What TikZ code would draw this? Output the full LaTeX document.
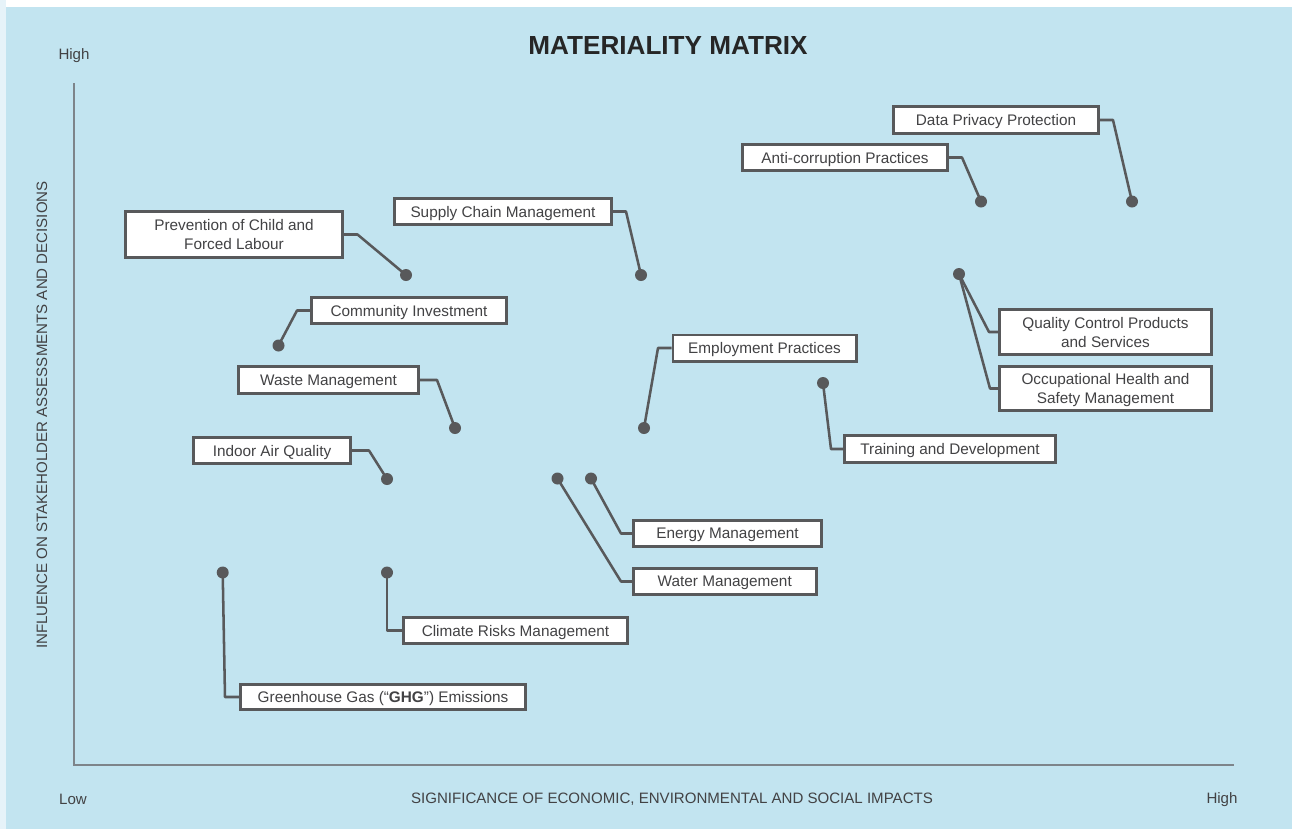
\documentclass[tikz,border=0pt]{standalone}
\usepackage{fontspec}
\setmainfont{Liberation Sans}
\definecolor{panel}{RGB}{194,228,240}
\definecolor{margin}{RGB}{230,243,249}
\definecolor{boxline}{RGB}{88,89,91}
\definecolor{txt}{RGB}{66,66,68}
\definecolor{axis}{RGB}{125,132,138}
\tikzset{
  lbl/.style={draw=boxline, line width=2.2pt, fill=white, text=txt, inner sep=0pt, align=center,
    text depth=0pt, font=\fontsize{11.5}{14.3}\selectfont},
  sz/.style 2 args={minimum width=#1*0.75pt-2.2pt, minimum height=#2*0.75pt-2.2pt},
  dotnode/.style={circle, fill=boxline, minimum size=9pt, inner sep=0pt},
  conn/.style={draw=boxline, line width=1.9pt, line join=round},
  axtxt/.style={text=txt, font=\fontsize{11.3}{13}\selectfont, inner sep=0pt}
}
\begin{document}
\begin{tikzpicture}[x=0.75pt,y=-0.75pt]
\useasboundingbox (0,0) rectangle (1292,829);
\fill[white] (0,0) rectangle (1292,829);
\fill[margin] (0,0) rectangle (6,829);
\fill[panel] (6,7) rectangle (1292,829);

% title and axes
\node[text=black!85, font=\fontsize{19.6}{23}\selectfont\bfseries, inner sep=0pt] (title) at (668,46) {MATERIALITY MATRIX};
\coordinate (top) at (74,83);
\coordinate (origin) at (74,765);
\coordinate (right) at (1234,765);
\draw[axis, line width=1.1pt] (top) -- (origin) -- (right);
\node[axtxt] (yhigh) at (74,55.5) {High};
\node[axtxt] (xlow) at (73,799) {Low};
\node[axtxt] (xhigh) at (1222,799.5) {High};
\node[axtxt] (xtitle) at (672,799) {SIGNIFICANCE OF ECONOMIC, ENVIRONMENTAL AND SOCIAL IMPACTS};
\node[axtxt, rotate=90] (ytitle) at (42,415) {INFLUENCE ON STAKEHOLDER ASSESSMENTS AND DECISIONS};

% label boxes
\node[lbl, sz={208}{30}] (dpp) at (996,120) {Data Privacy Protection};
\node[lbl, sz={208}{29}] (acp) at (845,157.5) {Anti-corruption Practices};
\node[lbl, sz={215}{48}] (qc) at (1105.5,332) {Quality Control Products\\and Services};
\node[lbl, sz={215}{47}] (oh) at (1105.5,388.5) {Occupational Health and\\Safety Management};
\node[lbl, sz={220}{49}] (pcl) at (234,234.5) {Prevention of Child and\\Forced Labour};
\node[lbl, sz={220}{29}] (scm) at (503,211.5) {Supply Chain Management};
\node[lbl, sz={198}{29}] (ci) at (409,310.5) {Community Investment};
\node[lbl, sz={183}{30}] (wm) at (328.5,380) {Waste Management};
\node[lbl, sz={160}{29}] (iaq) at (272,450.5) {Indoor Air Quality};
\node[lbl, sz={186}{29}] (ep) at (764.5,348) {Employment Practices};
\node[lbl, sz={214}{30}] (td) at (950,449) {Training and Development};
\node[lbl, sz={191}{29}] (em) at (727.5,533.5) {Energy Management};
\node[lbl, sz={186}{29}] (wat) at (724.75,581.5) {Water Management};
\node[lbl, sz={227}{29}] (crm) at (515.5,630.5) {Climate Risks Management};
\node[lbl, sz={288}{28}] (ghg) at (383,697) {Greenhouse Gas (“\textbf{GHG}”) Emissions};

% dots
\node[dotnode] (ddpp) at (1132,201.5) {};
\node[dotnode] (dacp) at (981,201.5) {};
\node[dotnode] (dqc) at (959,274) {};
\node[dotnode] (dpcl) at (406,275) {};
\node[dotnode] (dscm) at (641,275) {};
\node[dotnode] (dci) at (278.5,345.5) {};
\node[dotnode] (dwm) at (455,428) {};
\node[dotnode] (diaq) at (387,479) {};
\node[dotnode] (dep) at (644,428) {};
\node[dotnode] (dtd) at (823,383) {};
\node[dotnode] (dem) at (591,478.5) {};
\node[dotnode] (dwat) at (557.5,478.5) {};
\node[dotnode] (dcrm) at (387,572.5) {};
\node[dotnode] (dghg) at (222.7,572.5) {};

% connectors
\draw[conn] (dpp.east) -- (1113,120) -- (ddpp.center);
\draw[conn] (acp.east) -- (962,157.5) -- (dacp.center);
\draw[conn] (dqc.center) -- (989,332) -- (qc.west);
\draw[conn] (dqc.center) -- (990,388.5) -- (oh.west);
\draw[conn] (pcl.east) -- (357.5,234.5) -- (dpcl.center);
\draw[conn] (scm.east) -- (626,211.5) -- (dscm.center);
\draw[conn] (ci.west) -- (297,310.5) -- (dci.center);
\draw[conn] (wm.east) -- (437,380) -- (dwm.center);
\draw[conn] (iaq.east) -- (369,450.5) -- (diaq.center);
\draw[conn] (ep.west) -- (658,348) -- (dep.center);
\draw[conn] (dtd.center) -- (831,449) -- (td.west);
\draw[conn] (dem.center) -- (621,533.5) -- (em.west);
\draw[conn] (dwat.center) -- (621,581.5) -- (wat.west);
\draw[conn] (dcrm.center) -- (387,630.5) -- (crm.west);
\draw[conn] (dghg.center) -- (225,697) -- (ghg.west);
\end{tikzpicture}
\end{document}
